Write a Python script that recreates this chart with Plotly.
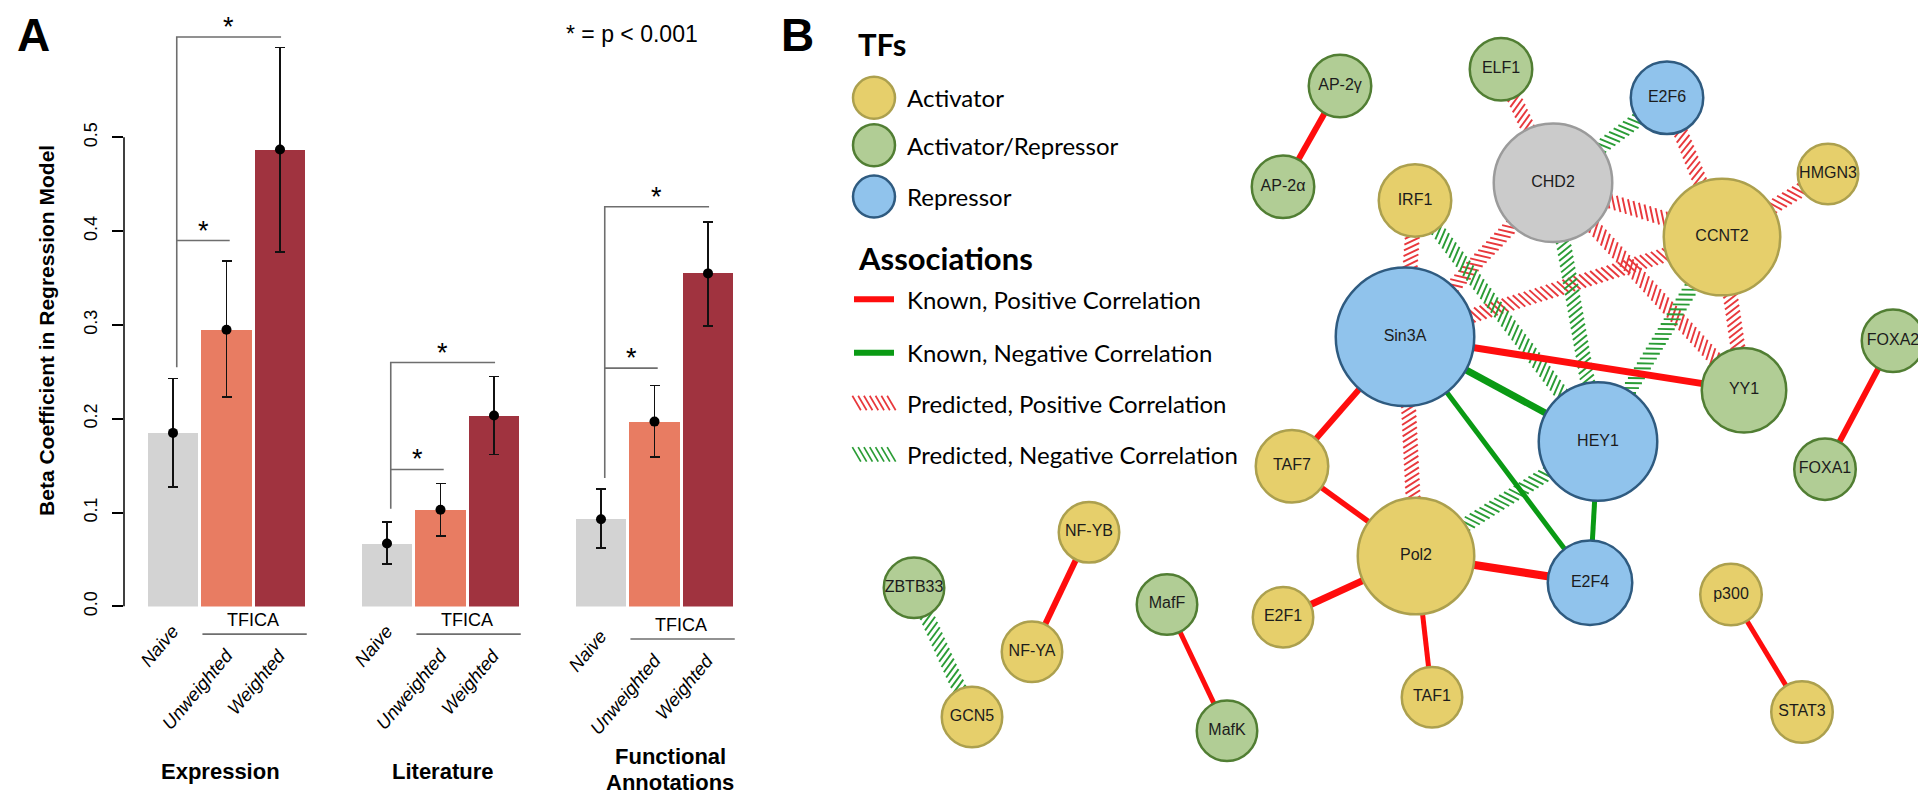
import math
import plotly.graph_objects as go

W, H = 1926, 800

# ---------------- Panel A data ----------------
GROUPS = ["Expression", "Literature", "Functional<br>Annotations"]
METHODS = ["Naive", "Unweighted", "Weighted"]
BETA_NAIVE = [0.185, 0.067, 0.093]
BETA_UNWEIGHTED = [0.295, 0.103, 0.197]
BETA_WEIGHTED = [0.487, 0.2035, 0.355]
CI_HIGH_NAIVE = [0.243, 0.090, 0.125]
CI_HIGH_UNWEIGHTED = [0.368, 0.131, 0.2355]
CI_HIGH_WEIGHTED = [0.596, 0.245, 0.410]
CI_LOW_NAIVE = [0.127, 0.045, 0.0625]
CI_LOW_UNWEIGHTED = [0.223, 0.075, 0.159]
CI_LOW_WEIGHTED = [0.378, 0.162, 0.299]
SIG_BASE = [0.255, 0.104, 0.137]    # bottom of the bracket's left leg
SIG_SHORT = [0.39, 0.146, 0.254]    # Naive vs Unweighted bracket
SIG_LONG = [0.607, 0.26, 0.426]     # Naive vs Weighted bracket
Y_TICKS = [0.0, 0.1, 0.2, 0.3, 0.4, 0.5]
Y_TICK_LABELS = ["0.0", "0.1", "0.2", "0.3", "0.4", "0.5"]

# ---------------- Panel B data ----------------
NODE_NAMES = ["AP-2γ", "AP-2α", "ELF1", "E2F6", "CHD2", "HMGN3", "IRF1", "CCNT2",
              "Sin3A", "YY1", "FOXA2", "FOXA1", "HEY1", "TAF7", "Pol2", "E2F4",
              "E2F1", "TAF1", "p300", "STAT3", "NF-YB", "NF-YA", "ZBTB33", "GCN5",
              "MafF", "MafK"]
NODE_TYPES = ["AR", "AR", "AR", "R", "U", "A", "A", "A",
              "R", "AR", "AR", "AR", "R", "A", "A", "R",
              "A", "A", "A", "A", "A", "A", "AR", "A",
              "AR", "AR"]
NODE_X = [1332, 1275, 1493, 1659, 1545, 1820, 1407, 1714,
          1397, 1736, 1885, 1817, 1590, 1284, 1408, 1582,
          1275, 1424, 1723, 1794, 1081, 1024, 906, 964,
          1159, 1219]
NODE_Y = [79, 181, 62, 91, 177, 168, 195, 232,
          333, 387, 337, 467, 439, 464, 555, 582,
          617, 698, 594, 713, 531, 652, 587, 718,
          604, 732]
NODE_R = [32, 32, 32, 37, 60, 31, 37, 59,
          70, 43, 32, 31.5, 60, 37, 59, 43,
          31, 31, 31.5, 31.5, 31, 31, 31, 31,
          31, 31]

KNOWN_POS = [("AP-2γ", "AP-2α"), ("Sin3A", "YY1"), ("Sin3A", "TAF7"), ("TAF7", "Pol2"),
             ("Pol2", "E2F1"), ("Pol2", "TAF1"), ("Pol2", "E2F4"), ("NF-YB", "NF-YA"),
             ("MafF", "MafK"), ("FOXA2", "FOXA1"), ("p300", "STAT3")]
KNOWN_POS_W = [6, 7, 6, 5.5, 7, 5, 8, 6, 5, 6, 5]
KNOWN_NEG = [("Sin3A", "HEY1"), ("Sin3A", "E2F4"), ("HEY1", "E2F4")]
KNOWN_NEG_W = [7, 5, 5]
PRED_POS = [("ELF1", "CHD2"), ("E2F6", "CCNT2"), ("HMGN3", "CCNT2"), ("IRF1", "Sin3A"),
            ("CHD2", "CCNT2"), ("CHD2", "Sin3A"), ("CCNT2", "Sin3A"), ("CHD2", "YY1"),
            ("CCNT2", "YY1"), ("Sin3A", "Pol2")]
PRED_NEG = [("E2F6", "CHD2"), ("IRF1", "HEY1"), ("CHD2", "HEY1"), ("CCNT2", "HEY1"),
            ("Pol2", "HEY1"), ("ZBTB33", "GCN5")]

TF_LEGEND = [("A", "Activator"), ("AR", "Activator/Repressor"), ("R", "Repressor")]
ASSOC_LEGEND = ["Known, Positive Correlation", "Known, Negative Correlation",
                "Predicted, Positive Correlation", "Predicted, Negative Correlation"]

# ---------------- styles ----------------
BAR_COLORS = ["#d3d3d3", "#e87c62", "#a0333f"]
FILL = {"A": "#e6cf6b", "AR": "#b1cd95", "R": "#90c3ec", "U": "#cbcbcb"}
BORDER = {"A": "#aca04e", "AR": "#517e33", "R": "#2f5b80", "U": "#9b9b9b"}
RED = "#ff0d0d"
GREEN = "#0a9a14"
HRED = "#e8383c"
HGREEN = "#2a9c35"
ARIAL = "Liberation Sans, Arial, Helvetica, sans-serif"
MYRIAD = "Lato, Open Sans, sans-serif"

PX0 = 165.0      # pixel of first bar centre
PITCH = 53.5     # pixels per bar slot
AX_LEFT, AX_RIGHT = 116, 760
Y0_PIX, PIX_PER_UNIT = 606, 950.0
Y_TOP = 0.6316

fig = go.Figure()

# ---------- Panel A ----------
betas = [BETA_NAIVE, BETA_UNWEIGHTED, BETA_WEIGHTED]
his = [CI_HIGH_NAIVE, CI_HIGH_UNWEIGHTED, CI_HIGH_WEIGHTED]
los = [CI_LOW_NAIVE, CI_LOW_UNWEIGHTED, CI_LOW_WEIGHTED]
for m, name in enumerate(METHODS):
    xs = [g * 4 + m for g in range(len(GROUPS))]
    fig.add_trace(go.Bar(
        x=xs, y=betas[m], width=0.95, name=name,
        marker=dict(color=BAR_COLORS[m], line=dict(width=0)),
        error_y=dict(type="data", symmetric=False,
                     array=[h - b for h, b in zip(his[m], betas[m])],
                     arrayminus=[b - l for b, l in zip(betas[m], los[m])],
                     color="#111111", thickness=1.6, width=5),
        xaxis="x", yaxis="y", showlegend=False, hoverinfo="skip"))
    fig.add_trace(go.Scatter(
        x=xs, y=betas[m], mode="markers",
        marker=dict(color="black", size=10, opacity=1),
        xaxis="x", yaxis="y", showlegend=False, hoverinfo="skip"))

# significance brackets
bx, by = [], []
stars = []
for g in range(len(GROUPS)):
    x0 = g * 4 + 0.07
    xl = g * 4 + 2.02
    xs_ = g * 4 + 1.06
    bx += [x0, x0, xl, None, x0, xs_, None]
    by += [SIG_BASE[g], SIG_LONG[g], SIG_LONG[g], None, SIG_SHORT[g], SIG_SHORT[g], None]
    stars.append(((x0 + xl) / 2, SIG_LONG[g]))
    stars.append(((x0 + xs_) / 2, SIG_SHORT[g]))
fig.add_trace(go.Scatter(x=bx, y=by, mode="lines", line=dict(color="#6e6e6e", width=1.6),
                         xaxis="x", yaxis="y", showlegend=False, hoverinfo="skip"))

annotations = []
for sx, sy in stars:
    annotations.append(dict(x=sx, y=sy, xref="x", yref="y", text="*", showarrow=False,
                            font=dict(family=ARIAL, size=27, color="black"),
                            yanchor="middle", yshift=10))

# axis line (R style, only covering tick range)
shapes = [dict(type="line", xref="paper", yref="y", x0=AX_LEFT / W, x1=AX_LEFT / W,
               y0=Y_TICKS[0], y1=Y_TICKS[-1], line=dict(color="black", width=1.5))]

# rotated category labels, TFICA labels and lines, group titles
for g, gname in enumerate(GROUPS):
    dy = 5 if g == 2 else 0
    for m, mname in enumerate(METHODS):
        ytop = (618 if m == 0 else 642) + dy
        annotations.append(dict(x=g * 4 + m + 0.24, y=ytop, xref="x", yref="y2",
                                text="<i>%s</i>" % mname, showarrow=False, textangle=-50,
                                xanchor="right", yanchor="top",
                                font=dict(family=ARIAL, size=18.5, color="black")))
    annotations.append(dict(x=g * 4 + 1.5, y=620 + dy, xref="x", yref="y2", text="TFICA",
                            showarrow=False, yanchor="middle",
                            font=dict(family=ARIAL, size=18, color="black")))
    shapes.append(dict(type="line", xref="x", yref="y2", x0=g * 4 + 0.55, x1=g * 4 + 2.5,
                       y0=634 + dy, y1=634 + dy, line=dict(color="#6e6e6e", width=1.6)))
    title_x = [0.88, 5.03, 9.29][g]
    lines = gname.split("<br>")
    ys_ = [773] if len(lines) == 1 else [758, 784]
    for t, yy in zip(lines, ys_):
        annotations.append(dict(x=title_x, y=yy, xref="x", yref="y2", text="<b>%s</b>" % t,
                                showarrow=False, yanchor="middle",
                                font=dict(family=ARIAL, size=22, color="black")))

annotations.append(dict(x=39, y=327, xref="x2", yref="y2",
                        text="<b>Beta Coefficient in Regression Model</b>",
                        textangle=-90, showarrow=False,
                        font=dict(family=ARIAL, size=21, color="black")))
annotations.append(dict(x=624, y=26, xref="x2", yref="y2", text="* = p < 0.001",
                        showarrow=False, font=dict(family=ARIAL, size=23, color="black")))
annotations.append(dict(x=25, y=27, xref="x2", yref="y2", text="<b>A</b>",
                        showarrow=False, font=dict(family=ARIAL, size=46, color="black")))
annotations.append(dict(x=789, y=27, xref="x2", yref="y2", text="<b>B</b>",
                        showarrow=False, font=dict(family=ARIAL, size=46, color="black")))

# ---------- Panel B ----------
idx = {n: i for i, n in enumerate(NODE_NAMES)}


def hatch_segments(xa, ya, ra, xb, yb, rb, spacing=5.8, length=17.0, angle=60.0):
    dx, dy = xb - xa, yb - ya
    L = math.hypot(dx, dy)
    ux, uy = dx / L, dy / L
    th = math.radians(angle)
    sx = ux * math.cos(th) - uy * math.sin(th)
    sy = ux * math.sin(th) + uy * math.cos(th)
    start, end = ra, L - rb
    n = int((end - start) / spacing)
    off = (end - start - n * spacing) / 2
    xs, ys = [], []
    for i in range(n + 1):
        t = start + off + i * spacing
        cx, cy = xa + ux * t, ya + uy * t
        xs += [cx - sx * length / 2, cx + sx * length / 2, None]
        ys += [cy - sy * length / 2, cy + sy * length / 2, None]
    return xs, ys


def edge_hatch(edges, color):
    xs, ys = [], []
    for a, b in edges:
        i, j = idx[a], idx[b]
        hx, hy = hatch_segments(NODE_X[i], NODE_Y[i], NODE_R[i] - 4,
                                NODE_X[j], NODE_Y[j], NODE_R[j] - 4)
        xs += hx
        ys += hy
    fig.add_trace(go.Scatter(x=xs, y=ys, mode="lines", line=dict(color=color, width=1.9),
                             xaxis="x2", yaxis="y2", showlegend=False, hoverinfo="skip"))


edge_hatch(PRED_POS, HRED)
edge_hatch(PRED_NEG, HGREEN)

for edges, widths, color in [(KNOWN_POS, KNOWN_POS_W, RED), (KNOWN_NEG, KNOWN_NEG_W, GREEN)]:
    for (a, b), w in zip(edges, widths):
        i, j = idx[a], idx[b]
        fig.add_trace(go.Scatter(x=[NODE_X[i], NODE_X[j]], y=[NODE_Y[i], NODE_Y[j]],
                                 mode="lines", line=dict(color=color, width=w),
                                 xaxis="x2", yaxis="y2", showlegend=False, hoverinfo="skip"))

fig.add_trace(go.Scatter(
    x=NODE_X, y=NODE_Y, mode="markers+text", text=NODE_NAMES,
    textposition="middle center",
    textfont=dict(family=ARIAL, size=16, color="#1c1c1c"),
    marker=dict(size=[2 * r - 1.5 for r in NODE_R], opacity=1,
                color=[FILL[t] for t in NODE_TYPES],
                line=dict(color=[BORDER[t] for t in NODE_TYPES], width=2.5)),
    xaxis="x2", yaxis="y2", showlegend=False, hoverinfo="skip"))

# legend of panel B
LEG_X = 848
annotations.append(dict(x=LEG_X, y=36, xref="x2", yref="y2", text="<b>TFs</b>",
                        xanchor="left", showarrow=False,
                        font=dict(family=MYRIAD, size=31, color="black")))
leg_circle_y = [91, 139, 191]
fig.add_trace(go.Scatter(
    x=[866] * 3, y=leg_circle_y, mode="markers",
    marker=dict(size=42, opacity=1, color=[FILL[t] for t, _ in TF_LEGEND],
                line=dict(color=[BORDER[t] for t, _ in TF_LEGEND], width=2.5)),
    xaxis="x2", yaxis="y2", showlegend=False, hoverinfo="skip"))
for (t, lab), yy in zip(TF_LEGEND, leg_circle_y):
    annotations.append(dict(x=897, y=yy, xref="x2", yref="y2", text=lab, xanchor="left",
                            showarrow=False, font=dict(family=MYRIAD, size=24, color="black")))
annotations.append(dict(x=LEG_X, y=253, xref="x2", yref="y2", text="<b>Associations</b>",
                        xanchor="left", showarrow=False,
                        font=dict(family=MYRIAD, size=31, color="black")))
assoc_y = [295, 349, 400, 452]
for k, (lab, yy) in enumerate(zip(ASSOC_LEGEND, assoc_y)):
    if k < 2:
        fig.add_trace(go.Scatter(x=[846, 886], y=[yy, yy], mode="lines",
                                 line=dict(color=RED if k == 0 else GREEN, width=6),
                                 xaxis="x2", yaxis="y2", showlegend=False, hoverinfo="skip"))
    else:
        hx, hy = hatch_segments(846, yy, 0, 886, yy, 0)
        fig.add_trace(go.Scatter(x=hx, y=hy, mode="lines",
                                 line=dict(color=HRED if k == 2 else HGREEN, width=1.7),
                                 xaxis="x2", yaxis="y2", showlegend=False, hoverinfo="skip"))
    annotations.append(dict(x=897, y=yy, xref="x2", yref="y2", text=lab, xanchor="left",
                            showarrow=False, font=dict(family=MYRIAD, size=24, color="black")))

fig.update_layout(
    width=W, height=H, margin=dict(l=0, r=0, t=0, b=0),
    paper_bgcolor="white", plot_bgcolor="rgba(0,0,0,0)",
    showlegend=False, bargap=0,
    xaxis=dict(domain=[AX_LEFT / W, AX_RIGHT / W],
               range=[(AX_LEFT - PX0) / PITCH, (AX_RIGHT - PX0) / PITCH],
               visible=False, fixedrange=True),
    yaxis=dict(domain=[(H - Y0_PIX) / H, (H - Y0_PIX) / H + Y_TOP * PIX_PER_UNIT / H],
               range=[0, Y_TOP], tickvals=Y_TICKS, ticktext=Y_TICK_LABELS,
               tickangle=-90, ticks="outside", ticklen=11, tickwidth=1.5, tickcolor="black",
               showgrid=False, zeroline=False, showline=False, ticklabelstandoff=8,
               tickfont=dict(family=ARIAL, size=18, color="black"), fixedrange=True),
    xaxis2=dict(domain=[0, 1], range=[0, W], visible=False, anchor="y2", fixedrange=True),
    yaxis2=dict(domain=[0, 1], range=[H, 0], visible=False, anchor="x2", fixedrange=True),
    annotations=annotations, shapes=shapes,
)

fig.write_html("out.html")
